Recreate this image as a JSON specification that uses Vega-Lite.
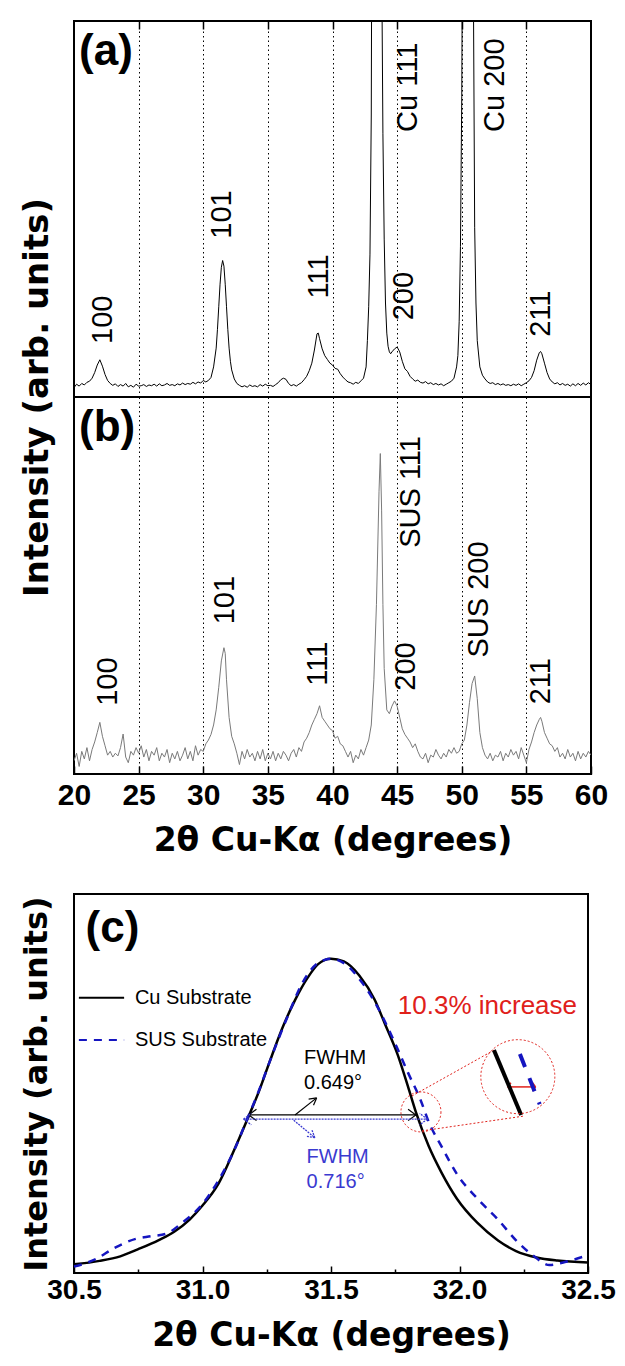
{
  "$schema": "https://vega.github.io/schema/vega-lite/v6.json",
  "padding": {"left": 19, "top": 19, "right": 5, "bottom": 5},
  "autosize": {"type": "pad"},
  "config": {
    "view": {"stroke": "black", "strokeWidth": 2},
    "font": "Liberation Sans",
    "axis": {"labelFont": "Liberation Sans", "titleFont": "DejaVu Sans", "titleFontWeight": "bold", "titleColor": "black", "labelColor": "black", "tickColor": "black", "domain": false}
  },
  "datasets": {
    "ta": [
      {"x":20.0,"y":2.5},{"x":20.2,"y":3.4},{"x":20.4,"y":2.9},{"x":20.6,"y":3.6},{"x":20.8,"y":3.2},{"x":21.0,"y":3.9},{"x":21.2,"y":4.2},{"x":21.4,"y":5.0},{"x":21.6,"y":6.5},{"x":21.8,"y":8.5},{"x":22.0,"y":9.9},{"x":22.2,"y":8.2},{"x":22.4,"y":6.0},{"x":22.6,"y":4.4},{"x":22.8,"y":3.6},{"x":23.0,"y":3.1},{"x":23.2,"y":3.5},{"x":23.4,"y":2.8},{"x":23.6,"y":3.3},{"x":23.8,"y":2.9},{"x":24.0,"y":3.6},{"x":24.2,"y":2.7},{"x":24.4,"y":3.1},{"x":24.6,"y":2.6},{"x":24.8,"y":3.4},{"x":25.0,"y":2.9},{"x":25.2,"y":3.0},{"x":25.4,"y":3.3},{"x":25.6,"y":2.8},{"x":25.8,"y":3.2},{"x":26.0,"y":3.0},{"x":26.2,"y":3.4},{"x":26.4,"y":2.9},{"x":26.6,"y":3.5},{"x":26.8,"y":3.0},{"x":27.0,"y":3.2},{"x":27.2,"y":3.6},{"x":27.4,"y":3.1},{"x":27.6,"y":3.3},{"x":27.8,"y":3.0},{"x":28.0,"y":3.5},{"x":28.2,"y":3.2},{"x":28.4,"y":3.7},{"x":28.6,"y":3.3},{"x":28.8,"y":3.6},{"x":29.0,"y":3.4},{"x":29.2,"y":3.9},{"x":29.4,"y":3.5},{"x":29.6,"y":4.0},{"x":29.8,"y":3.7},{"x":30.0,"y":4.4},{"x":30.2,"y":4.0},{"x":30.4,"y":4.4},{"x":30.6,"y":5.2},{"x":30.8,"y":8.0},{"x":31.0,"y":13},{"x":31.1,"y":18},{"x":31.2,"y":24},{"x":31.3,"y":30},{"x":31.4,"y":34.5},{"x":31.5,"y":36.3},{"x":31.6,"y":34.8},{"x":31.7,"y":30},{"x":31.8,"y":24},{"x":31.9,"y":18},{"x":32.0,"y":13},{"x":32.1,"y":9.5},{"x":32.2,"y":7.2},{"x":32.4,"y":4.8},{"x":32.6,"y":3.6},{"x":32.8,"y":3.1},{"x":33.0,"y":2.7},{"x":33.2,"y":3.0},{"x":33.4,"y":2.6},{"x":33.6,"y":3.2},{"x":33.8,"y":2.8},{"x":34.0,"y":3.0},{"x":34.2,"y":2.7},{"x":34.4,"y":3.3},{"x":34.6,"y":2.9},{"x":34.8,"y":3.4},{"x":35.0,"y":3.0},{"x":35.2,"y":3.1},{"x":35.4,"y":2.8},{"x":35.6,"y":3.3},{"x":35.8,"y":3.8},{"x":36.0,"y":4.6},{"x":36.2,"y":5.0},{"x":36.4,"y":4.7},{"x":36.6,"y":3.6},{"x":36.8,"y":3.0},{"x":37.0,"y":3.3},{"x":37.2,"y":2.9},{"x":37.4,"y":3.4},{"x":37.6,"y":3.8},{"x":37.8,"y":4.6},{"x":38.0,"y":5.5},{"x":38.2,"y":7.0},{"x":38.4,"y":9.0},{"x":38.6,"y":12.5},{"x":38.8,"y":16.8},{"x":38.9,"y":17},{"x":39.0,"y":15.5},{"x":39.2,"y":12.8},{"x":39.4,"y":11},{"x":39.6,"y":10},{"x":39.8,"y":9.0},{"x":40.0,"y":8.5},{"x":40.2,"y":7.6},{"x":40.4,"y":7.4},{"x":40.6,"y":6.2},{"x":40.8,"y":5.3},{"x":41.0,"y":4.6},{"x":41.2,"y":4.0},{"x":41.4,"y":3.8},{"x":41.6,"y":3.4},{"x":41.8,"y":3.9},{"x":42.0,"y":3.6},{"x":42.2,"y":4.3},{"x":42.4,"y":5.0},{"x":42.6,"y":8},{"x":42.7,"y":15},{"x":42.8,"y":24},{"x":42.9,"y":38},{"x":43.0,"y":75},{"x":43.1,"y":200},{"x":43.2,"y":400},{"x":43.3,"y":500},{"x":43.4,"y":500},{"x":43.5,"y":450},{"x":43.6,"y":350},{"x":43.7,"y":220},{"x":43.8,"y":120},{"x":43.9,"y":70},{"x":44.0,"y":42},{"x":44.1,"y":25},{"x":44.2,"y":17},{"x":44.3,"y":13.5},{"x":44.4,"y":12},{"x":44.5,"y":11.5},{"x":44.6,"y":12},{"x":44.8,"y":12.8},{"x":45.0,"y":13.3},{"x":45.2,"y":12.0},{"x":45.4,"y":9.5},{"x":45.6,"y":7.5},{"x":45.8,"y":6.8},{"x":46.0,"y":5.5},{"x":46.2,"y":4.8},{"x":46.4,"y":4.2},{"x":46.6,"y":4.5},{"x":46.8,"y":3.9},{"x":47.0,"y":3.7},{"x":47.2,"y":4.1},{"x":47.4,"y":3.5},{"x":47.6,"y":3.8},{"x":47.8,"y":3.3},{"x":48.0,"y":3.6},{"x":48.2,"y":3.2},{"x":48.4,"y":3.5},{"x":48.6,"y":3.0},{"x":48.8,"y":3.4},{"x":49.0,"y":3.8},{"x":49.2,"y":4.2},{"x":49.4,"y":5.0},{"x":49.6,"y":8},{"x":49.7,"y":11},{"x":49.8,"y":20},{"x":49.9,"y":40},{"x":50.0,"y":80},{"x":50.1,"y":150},{"x":50.2,"y":300},{"x":50.3,"y":400},{"x":50.4,"y":420},{"x":50.5,"y":400},{"x":50.6,"y":330},{"x":50.7,"y":250},{"x":50.8,"y":170},{"x":50.9,"y":110},{"x":51.0,"y":45},{"x":51.1,"y":25},{"x":51.2,"y":15},{"x":51.4,"y":8},{"x":51.6,"y":5.8},{"x":51.8,"y":4.8},{"x":52.0,"y":4.0},{"x":52.2,"y":3.6},{"x":52.4,"y":3.8},{"x":52.6,"y":3.3},{"x":52.8,"y":3.6},{"x":53.0,"y":3.2},{"x":53.2,"y":3.5},{"x":53.4,"y":3.1},{"x":53.6,"y":3.3},{"x":53.8,"y":3.0},{"x":54.0,"y":3.4},{"x":54.2,"y":3.1},{"x":54.4,"y":3.5},{"x":54.6,"y":3.0},{"x":54.8,"y":3.4},{"x":55.0,"y":3.8},{"x":55.2,"y":4.3},{"x":55.4,"y":5.2},{"x":55.6,"y":7.0},{"x":55.8,"y":9.8},{"x":56.0,"y":11.8},{"x":56.1,"y":12.1},{"x":56.2,"y":11.5},{"x":56.4,"y":9.0},{"x":56.6,"y":6.5},{"x":56.8,"y":4.8},{"x":57.0,"y":4.0},{"x":57.2,"y":3.5},{"x":57.4,"y":3.8},{"x":57.6,"y":3.2},{"x":57.8,"y":3.6},{"x":58.0,"y":3.1},{"x":58.2,"y":3.4},{"x":58.4,"y":2.9},{"x":58.6,"y":3.5},{"x":58.8,"y":3.0},{"x":59.0,"y":3.6},{"x":59.2,"y":3.1},{"x":59.4,"y":3.7},{"x":59.6,"y":3.2},{"x":59.8,"y":3.8},{"x":60.0,"y":3.3}
    ],
    "tb": [
      {"x":20.0,"y":3.5},{"x":20.2,"y":5.5},{"x":20.4,"y":2.0},{"x":20.6,"y":6.0},{"x":20.8,"y":4.0},{"x":21.0,"y":7.0},{"x":21.2,"y":3.5},{"x":21.4,"y":6.5},{"x":21.6,"y":8.5},{"x":21.8,"y":11},{"x":22.0,"y":13.7},{"x":22.2,"y":10},{"x":22.4,"y":7.5},{"x":22.6,"y":5.0},{"x":22.8,"y":6.0},{"x":23.0,"y":4.5},{"x":23.2,"y":5.5},{"x":23.4,"y":4.8},{"x":23.6,"y":7.0},{"x":23.8,"y":10.6},{"x":24.0,"y":4.5},{"x":24.2,"y":3.0},{"x":24.4,"y":6.0},{"x":24.6,"y":5.0},{"x":24.8,"y":7.0},{"x":25.0,"y":5.5},{"x":25.2,"y":7.5},{"x":25.4,"y":4.5},{"x":25.6,"y":6.5},{"x":25.8,"y":3.5},{"x":26.0,"y":6.0},{"x":26.2,"y":5.0},{"x":26.4,"y":7.0},{"x":26.6,"y":3.5},{"x":26.8,"y":5.5},{"x":27.0,"y":4.5},{"x":27.2,"y":6.5},{"x":27.4,"y":3.0},{"x":27.6,"y":5.5},{"x":27.8,"y":4.0},{"x":28.0,"y":6.0},{"x":28.2,"y":3.5},{"x":28.4,"y":5.0},{"x":28.6,"y":7.0},{"x":28.8,"y":4.0},{"x":29.0,"y":6.0},{"x":29.2,"y":3.5},{"x":29.4,"y":7.5},{"x":29.6,"y":5.0},{"x":29.8,"y":6.5},{"x":30.0,"y":6.0},{"x":30.2,"y":8.0},{"x":30.4,"y":9.0},{"x":30.6,"y":10.5},{"x":30.8,"y":13},{"x":31.0,"y":17},{"x":31.2,"y":23},{"x":31.4,"y":30},{"x":31.6,"y":33.5},{"x":31.7,"y":32},{"x":31.8,"y":25},{"x":32.0,"y":15},{"x":32.2,"y":10},{"x":32.4,"y":8.0},{"x":32.6,"y":5.5},{"x":32.8,"y":2.5},{"x":33.0,"y":6.0},{"x":33.2,"y":4.0},{"x":33.4,"y":6.5},{"x":33.6,"y":4.5},{"x":33.8,"y":5.5},{"x":34.0,"y":3.5},{"x":34.2,"y":6.0},{"x":34.4,"y":4.0},{"x":34.6,"y":6.5},{"x":34.8,"y":3.5},{"x":35.0,"y":5.5},{"x":35.2,"y":4.0},{"x":35.4,"y":6.0},{"x":35.6,"y":3.5},{"x":35.8,"y":5.5},{"x":36.0,"y":4.0},{"x":36.2,"y":6.0},{"x":36.4,"y":5.0},{"x":36.6,"y":3.5},{"x":36.8,"y":5.5},{"x":37.0,"y":6.5},{"x":37.2,"y":4.5},{"x":37.4,"y":7.0},{"x":37.6,"y":6.0},{"x":37.8,"y":8.5},{"x":38.0,"y":9.5},{"x":38.2,"y":11},{"x":38.4,"y":13},{"x":38.6,"y":14.5},{"x":38.8,"y":16},{"x":39.0,"y":18.1},{"x":39.2,"y":15},{"x":39.4,"y":14},{"x":39.6,"y":13},{"x":39.8,"y":12},{"x":40.0,"y":11.5},{"x":40.2,"y":9.5},{"x":40.4,"y":10},{"x":40.6,"y":8.0},{"x":40.8,"y":7.5},{"x":41.0,"y":6.0},{"x":41.2,"y":4.5},{"x":41.4,"y":6.0},{"x":41.6,"y":3.0},{"x":41.8,"y":5.0},{"x":42.0,"y":4.0},{"x":42.2,"y":6.5},{"x":42.4,"y":5.0},{"x":42.6,"y":7.0},{"x":42.8,"y":9.0},{"x":43.0,"y":13},{"x":43.2,"y":25},{"x":43.4,"y":45},{"x":43.6,"y":75},{"x":43.7,"y":85},{"x":43.8,"y":70},{"x":43.9,"y":45},{"x":44.0,"y":28},{"x":44.2,"y":17},{"x":44.4,"y":16},{"x":44.6,"y":18},{"x":44.8,"y":19.4},{"x":45.0,"y":18},{"x":45.2,"y":15},{"x":45.4,"y":12},{"x":45.6,"y":10.5},{"x":45.8,"y":9.5},{"x":46.0,"y":8.5},{"x":46.2,"y":7.0},{"x":46.4,"y":8.0},{"x":46.6,"y":6.0},{"x":46.8,"y":4.5},{"x":47.0,"y":4.0},{"x":47.2,"y":5.5},{"x":47.4,"y":3.0},{"x":47.6,"y":5.0},{"x":47.8,"y":4.5},{"x":48.0,"y":6.5},{"x":48.2,"y":5.0},{"x":48.4,"y":4.0},{"x":48.6,"y":5.5},{"x":48.8,"y":4.5},{"x":49.0,"y":6.5},{"x":49.2,"y":5.5},{"x":49.4,"y":7.0},{"x":49.6,"y":5.5},{"x":49.8,"y":6.0},{"x":50.0,"y":8.0},{"x":50.2,"y":9.0},{"x":50.4,"y":13},{"x":50.6,"y":19},{"x":50.8,"y":24},{"x":51.0,"y":26},{"x":51.2,"y":20},{"x":51.4,"y":11},{"x":51.6,"y":7.0},{"x":51.8,"y":5.0},{"x":52.0,"y":4.0},{"x":52.2,"y":5.5},{"x":52.4,"y":3.5},{"x":52.6,"y":5.0},{"x":52.8,"y":4.5},{"x":53.0,"y":6.0},{"x":53.2,"y":3.5},{"x":53.4,"y":5.5},{"x":53.6,"y":4.5},{"x":53.8,"y":6.5},{"x":54.0,"y":5.0},{"x":54.2,"y":6.0},{"x":54.4,"y":4.0},{"x":54.6,"y":7.0},{"x":54.8,"y":5.0},{"x":55.0,"y":3.0},{"x":55.2,"y":6.5},{"x":55.4,"y":8.5},{"x":55.6,"y":11},{"x":55.8,"y":13},{"x":56.0,"y":14.5},{"x":56.1,"y":15},{"x":56.2,"y":14},{"x":56.4,"y":11},{"x":56.6,"y":9.5},{"x":56.8,"y":8.0},{"x":57.0,"y":7.5},{"x":57.2,"y":6.0},{"x":57.4,"y":7.0},{"x":57.6,"y":4.5},{"x":57.8,"y":5.5},{"x":58.0,"y":4.0},{"x":58.2,"y":6.5},{"x":58.4,"y":4.5},{"x":58.6,"y":5.5},{"x":58.8,"y":3.5},{"x":59.0,"y":6.0},{"x":59.2,"y":4.0},{"x":59.4,"y":5.5},{"x":59.6,"y":4.5},{"x":59.8,"y":6.0},{"x":60.0,"y":5.0}
    ],
    "la": [
      {"t":"100","x":22.24,"y":14.1},{"t":"101","x":31.45,"y":42.1},{"t":"111","x":38.94,"y":26.2},{"t":"200","x":45.56,"y":20.4},{"t":"Cu 111","x":45.84,"y":70.5},{"t":"Cu 200","x":52.54,"y":70.5},{"t":"211","x":56.1,"y":16}
    ],
    "lb": [
      {"t":"100","x":22.6,"y":18.1},{"t":"101","x":31.68,"y":39.7},{"t":"111","x":38.85,"y":23.4},{"t":"SUS 111","x":46.1,"y":60},{"t":"200","x":45.7,"y":22.1},{"t":"SUS 200","x":51.3,"y":30.9},{"t":"211","x":56.1,"y":18.5}
    ],
    "pc": [
      {"s":"cu","x":30.5,"y":2.3},{"s":"cu","x":30.6,"y":3.2},{"s":"cu","x":30.68,"y":4.4},{"s":"cu","x":30.75,"y":6.3},{"s":"cu","x":30.83,"y":8.7},{"s":"cu","x":30.89,"y":10.9},{"s":"cu","x":30.95,"y":14.1},{"s":"cu","x":31.0,"y":17.8},{"s":"cu","x":31.06,"y":23.3},{"s":"cu","x":31.13,"y":33.5},{"s":"cu","x":31.18,"y":41.4},{"s":"cu","x":31.22,"y":48.0},{"s":"cu","x":31.26,"y":55.5},{"s":"cu","x":31.31,"y":64.5},{"s":"cu","x":31.36,"y":72},{"s":"cu","x":31.41,"y":78},{"s":"cu","x":31.45,"y":81.5},{"s":"cu","x":31.5,"y":82.9},{"s":"cu","x":31.55,"y":82.2},{"s":"cu","x":31.61,"y":78.5},{"s":"cu","x":31.67,"y":72.1},{"s":"cu","x":31.71,"y":65.7},{"s":"cu","x":31.76,"y":57.5},{"s":"cu","x":31.8,"y":49.1},{"s":"cu","x":31.83,"y":42.5},{"s":"cu","x":31.88,"y":33.5},{"s":"cu","x":31.93,"y":26.5},{"s":"cu","x":31.99,"y":19.6},{"s":"cu","x":32.07,"y":13.2},{"s":"cu","x":32.15,"y":8.6},{"s":"cu","x":32.22,"y":5.8},{"s":"cu","x":32.3,"y":4.1},{"s":"cu","x":32.38,"y":3.3},{"s":"cu","x":32.5,"y":2.8},
      {"s":"sus","x":30.5,"y":1.7},{"s":"sus","x":30.58,"y":3.5},{"s":"sus","x":30.66,"y":6.7},{"s":"sus","x":30.74,"y":9},{"s":"sus","x":30.8,"y":9.7},{"s":"sus","x":30.86,"y":10.4},{"s":"sus","x":30.92,"y":13.2},{"s":"sus","x":31.0,"y":18.2},{"s":"sus","x":31.06,"y":24.2},{"s":"sus","x":31.13,"y":33.4},{"s":"sus","x":31.17,"y":40.0},{"s":"sus","x":31.22,"y":48.2},{"s":"sus","x":31.26,"y":55.5},{"s":"sus","x":31.33,"y":67.5},{"s":"sus","x":31.39,"y":76.7},{"s":"sus","x":31.45,"y":81.8},{"s":"sus","x":31.5,"y":82.9},{"s":"sus","x":31.56,"y":81.3},{"s":"sus","x":31.62,"y":76.7},{"s":"sus","x":31.68,"y":70.3},{"s":"sus","x":31.74,"y":62},{"s":"sus","x":31.8,"y":52.8},{"s":"sus","x":31.85,"y":45.4},{"s":"sus","x":31.88,"y":39.9},{"s":"sus","x":31.93,"y":33.4},{"s":"sus","x":31.99,"y":26.1},{"s":"sus","x":32.07,"y":19.6},{"s":"sus","x":32.15,"y":14.1},{"s":"sus","x":32.22,"y":8.6},{"s":"sus","x":32.29,"y":4.4},{"s":"sus","x":32.35,"y":2.1},{"s":"sus","x":32.41,"y":2.9},{"s":"sus","x":32.5,"y":4.7}
    ],
    "ann": [
      {"g":"k1","x":31.18,"y":41.7,"x2":31.83,"y2":41.7},{"g":"k1","x":31.18,"y":41.7,"x2":31.21,"y2":43.2},{"g":"k1","x":31.18,"y":41.7,"x2":31.21,"y2":40.2},{"g":"k1","x":31.83,"y":41.7,"x2":31.8,"y2":43.2},{"g":"k1","x":31.83,"y":41.7,"x2":31.8,"y2":40.2},
      {"g":"k1","x":31.36,"y":41.7,"x2":31.444,"y2":46.2},{"g":"k1","x":31.444,"y":46.2,"x2":31.432,"y2":44.24},{"g":"k1","x":31.444,"y":46.2,"x2":31.413,"y2":45.9},
      {"g":"b1","x":31.16,"y":40.6,"x2":31.875,"y2":40.6},{"g":"b1","x":31.16,"y":40.6,"x2":31.19,"y2":42.1},{"g":"b1","x":31.16,"y":40.6,"x2":31.19,"y2":39.1},{"g":"b1","x":31.875,"y":40.6,"x2":31.845,"y2":42.1},{"g":"b1","x":31.875,"y":40.6,"x2":31.845,"y2":39.1},
      {"g":"b1","x":31.355,"y":40.3,"x2":31.437,"y2":35.7},{"g":"b1","x":31.437,"y":35.7,"x2":31.406,"y2":36.05},{"g":"b1","x":31.437,"y":35.7,"x2":31.426,"y2":37.68},
      {"g":"r1","x":31.815,"y":46.7,"x2":32.134,"y2":58.8},{"g":"r1","x":31.854,"y":37.5,"x2":32.25,"y2":41.4},
      {"g":"r2","x":32.188,"y":49.1,"x2":32.296,"y2":49.1},{"g":"r2","x":32.188,"y":49.1,"x2":32.2,"y2":50.2},{"g":"r2","x":32.188,"y":49.1,"x2":32.2,"y2":48.0},{"g":"r2","x":32.296,"y":49.1,"x2":32.284,"y2":50.2},{"g":"r2","x":32.296,"y":49.1,"x2":32.284,"y2":48.0},
      {"g":"k2","x":30.519,"y":72.6,"x2":30.695,"y2":72.6},{"g":"k3","x":32.134,"y":58.8,"x2":32.24,"y2":41.7},
      {"g":"b2","x":30.519,"y":61.5,"x2":30.695,"y2":61.5},{"g":"b3","x":32.235,"y":57.8,"x2":32.312,"y2":44.5}
    ],
    "circ": [
      {"r":"small","x":31.85,"y":42.5},{"r":"big","x":32.227,"y":51.8}
    ],
    "ct": [
      {"g":"leg","t":"Cu Substrate","x":30.737,"y":72.6},{"g":"leg","t":"SUS Substrate","x":30.737,"y":61.5},
      {"g":"fk","t":"FWHM","x":31.395,"y":56.7},{"g":"fk","t":"0.649°","x":31.395,"y":50.1},
      {"g":"fb","t":"FWHM","x":31.405,"y":30.6},{"g":"fb","t":"0.716°","x":31.405,"y":24.0},
      {"g":"red","t":"10.3% increase","x":31.76,"y":70.4}
    ]
  },
  "bounds": "flush",
  "spacing": 0,
  "vconcat": [
    {
      "width": 517,
      "height": 376,
      "layer": [
        {
          "data": {"name": "ta"},
          "mark": {"type": "line", "color": "black", "strokeWidth": 1, "clip": true},
          "encoding": {
            "x": {"field": "x", "type": "quantitative", "scale": {"domain": [20, 60], "nice": false, "zero": false},
              "axis": {"orient": "top", "values": [25, 30, 35, 40, 45, 50, 55], "labels": false, "ticks": true, "tickSize": -8, "tickWidth": 1.5, "grid": true, "gridColor": "black", "gridDash": [1.5, 3], "gridWidth": 1, "gridOpacity": 1, "title": null}},
            "y": {"field": "y", "type": "quantitative", "scale": {"domain": [0, 100], "nice": false, "zero": false},
              "axis": {"labels": false, "ticks": false, "grid": false, "title": "Intensity (arb. units)", "titleFontSize": 34, "titlePadding": 20, "titleY": 376}}
          }
        },
        {
          "data": {"name": "la"},
          "mark": {"type": "text", "angle": 270, "align": "left", "baseline": "middle", "fontSize": 29, "font": "Liberation Sans", "color": "black"},
          "encoding": {"x": {"field": "x", "type": "quantitative"}, "y": {"field": "y", "type": "quantitative"}, "text": {"field": "t"}}
        },
        {
          "data": {"values": [{"t": "(a)", "x": 20.39, "y": 97.5}]},
          "mark": {"type": "text", "align": "left", "baseline": "top", "fontSize": 44, "fontWeight": "bold", "font": "Liberation Sans", "color": "black"},
          "encoding": {"x": {"field": "x", "type": "quantitative"}, "y": {"field": "y", "type": "quantitative"}, "text": {"field": "t"}}
        }
      ]
    },
    {
      "width": 517,
      "height": 377,
      "layer": [
        {
          "data": {"name": "tb"},
          "mark": {"type": "line", "color": "#7a7a7a", "strokeWidth": 1, "clip": true},
          "encoding": {
            "x": {"field": "x", "type": "quantitative", "scale": {"domain": [20, 60], "nice": false, "zero": false},
              "axis": {"orient": "bottom", "values": [20, 22.5, 25, 27.5, 30, 32.5, 35, 37.5, 40, 42.5, 45, 47.5, 50, 52.5, 55, 57.5, 60],
                "labelExpr": "datum.value % 5 === 0 ? datum.label : ''", "labelFlush": false, "labelOverlap": false,
                "labelFontSize": 30, "labelFontWeight": "bold", "labelPadding": 14,
                "tickSize": {"condition": {"test": "datum.value % 5 === 0", "value": -8}, "value": -4}, "tickWidth": 1.5,
                "grid": true, "gridColor": "black", "gridDash": [1.5, 3], "gridWidth": 1,
                "gridOpacity": {"condition": {"test": "datum.value % 5 === 0", "value": 1}, "value": 0},
                "title": "2θ Cu-Kα (degrees)", "titleFontSize": 33, "titlePadding": 14}},
            "y": {"field": "y", "type": "quantitative", "scale": {"domain": [0, 100], "nice": false, "zero": false},
              "axis": {"labels": false, "ticks": false, "grid": false, "title": null}}
          }
        },
        {
          "data": {"name": "lb"},
          "mark": {"type": "text", "angle": 270, "align": "left", "baseline": "middle", "fontSize": 29, "font": "Liberation Sans", "color": "black"},
          "encoding": {"x": {"field": "x", "type": "quantitative"}, "y": {"field": "y", "type": "quantitative"}, "text": {"field": "t"}}
        },
        {
          "data": {"values": [{"t": "(b)", "x": 20.39, "y": 97.5}]},
          "mark": {"type": "text", "align": "left", "baseline": "top", "fontSize": 44, "fontWeight": "bold", "font": "Liberation Sans", "color": "black"},
          "encoding": {"x": {"field": "x", "type": "quantitative"}, "y": {"field": "y", "type": "quantitative"}, "text": {"field": "t"}}
        }
      ]
    },
    {
      "width": 517,
      "height": 120,
      "view": {"stroke": null},
      "data": {"values": [{"t": ""}]},
      "mark": {"type": "text"},
      "encoding": {"text": {"field": "t"}}
    },
    {
      "width": 514,
      "height": 379,
      "layer": [
        {
          "data": {"name": "pc"},
          "transform": [{"filter": "datum.s === 'cu'"}],
          "mark": {"type": "line", "color": "black", "strokeWidth": 2.5, "interpolate": "monotone"},
          "encoding": {
            "x": {"field": "x", "type": "quantitative", "scale": {"domain": [30.5, 32.5], "nice": false, "zero": false},
              "axis": {"orient": "bottom", "values": [30.5, 30.75, 31, 31.25, 31.5, 31.75, 32, 32.25, 32.5],
                "labelExpr": "(datum.value * 2) % 1 === 0 ? format(datum.value, '.1f') : ''", "labelFlush": false, "labelOverlap": false,
                "labelFontSize": 28, "labelFontWeight": "bold", "labelPadding": 10,
                "tickSize": {"condition": {"test": "(datum.value * 2) % 1 === 0", "value": -7}, "value": -4}, "tickWidth": 1.5,
                "grid": false, "title": "2θ Cu-Kα (degrees)", "titleFontSize": 33, "titlePadding": 12}},
            "y": {"field": "y", "type": "quantitative", "scale": {"domain": [0, 100], "nice": false, "zero": false},
              "axis": {"labels": false, "ticks": false, "grid": false, "title": "Intensity (arb. units)", "titleFontSize": 32, "titlePadding": 21}}
          }
        },
        {
          "data": {"name": "pc"},
          "transform": [{"filter": "datum.s === 'sus'"}],
          "mark": {"type": "line", "color": "#1515c0", "strokeWidth": 2.5, "strokeDash": [8, 7], "interpolate": "monotone"},
          "encoding": {"x": {"field": "x", "type": "quantitative"}, "y": {"field": "y", "type": "quantitative"}}
        },
        {
          "data": {"name": "ann"},
          "transform": [{"filter": "datum.g === 'k1'"}],
          "mark": {"type": "rule", "color": "black", "strokeWidth": 1.2},
          "encoding": {"x": {"field": "x", "type": "quantitative"}, "y": {"field": "y", "type": "quantitative"}, "x2": {"field": "x2"}, "y2": {"field": "y2"}}
        },
        {
          "data": {"name": "ann"},
          "transform": [{"filter": "datum.g === 'b1'"}],
          "mark": {"type": "rule", "color": "#3a3ad0", "strokeWidth": 1.3, "strokeDash": [2, 1]},
          "encoding": {"x": {"field": "x", "type": "quantitative"}, "y": {"field": "y", "type": "quantitative"}, "x2": {"field": "x2"}, "y2": {"field": "y2"}}
        },
        {
          "data": {"name": "ann"},
          "transform": [{"filter": "datum.g === 'r1'"}],
          "mark": {"type": "rule", "color": "#e0201a", "strokeWidth": 1, "strokeDash": [2, 2]},
          "encoding": {"x": {"field": "x", "type": "quantitative"}, "y": {"field": "y", "type": "quantitative"}, "x2": {"field": "x2"}, "y2": {"field": "y2"}}
        },
        {
          "data": {"name": "ann"},
          "transform": [{"filter": "datum.g === 'r2'"}],
          "mark": {"type": "rule", "color": "#e0201a", "strokeWidth": 1.5},
          "encoding": {"x": {"field": "x", "type": "quantitative"}, "y": {"field": "y", "type": "quantitative"}, "x2": {"field": "x2"}, "y2": {"field": "y2"}}
        },
        {
          "data": {"name": "ann"},
          "transform": [{"filter": "datum.g === 'k2'"}],
          "mark": {"type": "rule", "color": "black", "strokeWidth": 2},
          "encoding": {"x": {"field": "x", "type": "quantitative"}, "y": {"field": "y", "type": "quantitative"}, "x2": {"field": "x2"}, "y2": {"field": "y2"}}
        },
        {
          "data": {"name": "ann"},
          "transform": [{"filter": "datum.g === 'k3'"}],
          "mark": {"type": "rule", "color": "black", "strokeWidth": 4},
          "encoding": {"x": {"field": "x", "type": "quantitative"}, "y": {"field": "y", "type": "quantitative"}, "x2": {"field": "x2"}, "y2": {"field": "y2"}}
        },
        {
          "data": {"name": "ann"},
          "transform": [{"filter": "datum.g === 'b2'"}],
          "mark": {"type": "rule", "color": "#1515c0", "strokeWidth": 2, "strokeDash": [8, 7]},
          "encoding": {"x": {"field": "x", "type": "quantitative"}, "y": {"field": "y", "type": "quantitative"}, "x2": {"field": "x2"}, "y2": {"field": "y2"}}
        },
        {
          "data": {"name": "ann"},
          "transform": [{"filter": "datum.g === 'b3'"}],
          "mark": {"type": "rule", "color": "#1515c0", "strokeWidth": 4, "strokeDash": [14, 12]},
          "encoding": {"x": {"field": "x", "type": "quantitative"}, "y": {"field": "y", "type": "quantitative"}, "x2": {"field": "x2"}, "y2": {"field": "y2"}}
        },
        {
          "data": {"name": "circ"},
          "transform": [{"filter": "datum.r === 'small'"}],
          "mark": {"type": "point", "shape": "circle", "size": 1600, "filled": false, "color": "#e0201a", "strokeWidth": 1, "strokeDash": [2, 2], "opacity": 1},
          "encoding": {"x": {"field": "x", "type": "quantitative"}, "y": {"field": "y", "type": "quantitative"}}
        },
        {
          "data": {"name": "circ"},
          "transform": [{"filter": "datum.r === 'big'"}],
          "mark": {"type": "point", "shape": "circle", "size": 5476, "filled": false, "color": "#e0201a", "strokeWidth": 1, "strokeDash": [2, 2], "opacity": 1},
          "encoding": {"x": {"field": "x", "type": "quantitative"}, "y": {"field": "y", "type": "quantitative"}}
        },
        {
          "data": {"name": "ct"},
          "transform": [{"filter": "datum.g === 'leg' || datum.g === 'fk'"}],
          "mark": {"type": "text", "align": "left", "baseline": "middle", "fontSize": 20, "font": "Liberation Sans", "color": "black"},
          "encoding": {"x": {"field": "x", "type": "quantitative"}, "y": {"field": "y", "type": "quantitative"}, "text": {"field": "t"}}
        },
        {
          "data": {"name": "ct"},
          "transform": [{"filter": "datum.g === 'fb'"}],
          "mark": {"type": "text", "align": "left", "baseline": "middle", "fontSize": 20, "font": "Liberation Sans", "color": "#3a3ad0"},
          "encoding": {"x": {"field": "x", "type": "quantitative"}, "y": {"field": "y", "type": "quantitative"}, "text": {"field": "t"}}
        },
        {
          "data": {"name": "ct"},
          "transform": [{"filter": "datum.g === 'red'"}],
          "mark": {"type": "text", "align": "left", "baseline": "middle", "fontSize": 26, "font": "Liberation Sans", "color": "#e0201a"},
          "encoding": {"x": {"field": "x", "type": "quantitative"}, "y": {"field": "y", "type": "quantitative"}, "text": {"field": "t"}}
        },
        {
          "data": {"values": [{"t": "(c)", "x": 30.545, "y": 96.5}]},
          "mark": {"type": "text", "align": "left", "baseline": "top", "fontSize": 44, "fontWeight": "bold", "font": "Liberation Sans", "color": "black"},
          "encoding": {"x": {"field": "x", "type": "quantitative"}, "y": {"field": "y", "type": "quantitative"}, "text": {"field": "t"}}
        }
      ]
    }
  ]
}
